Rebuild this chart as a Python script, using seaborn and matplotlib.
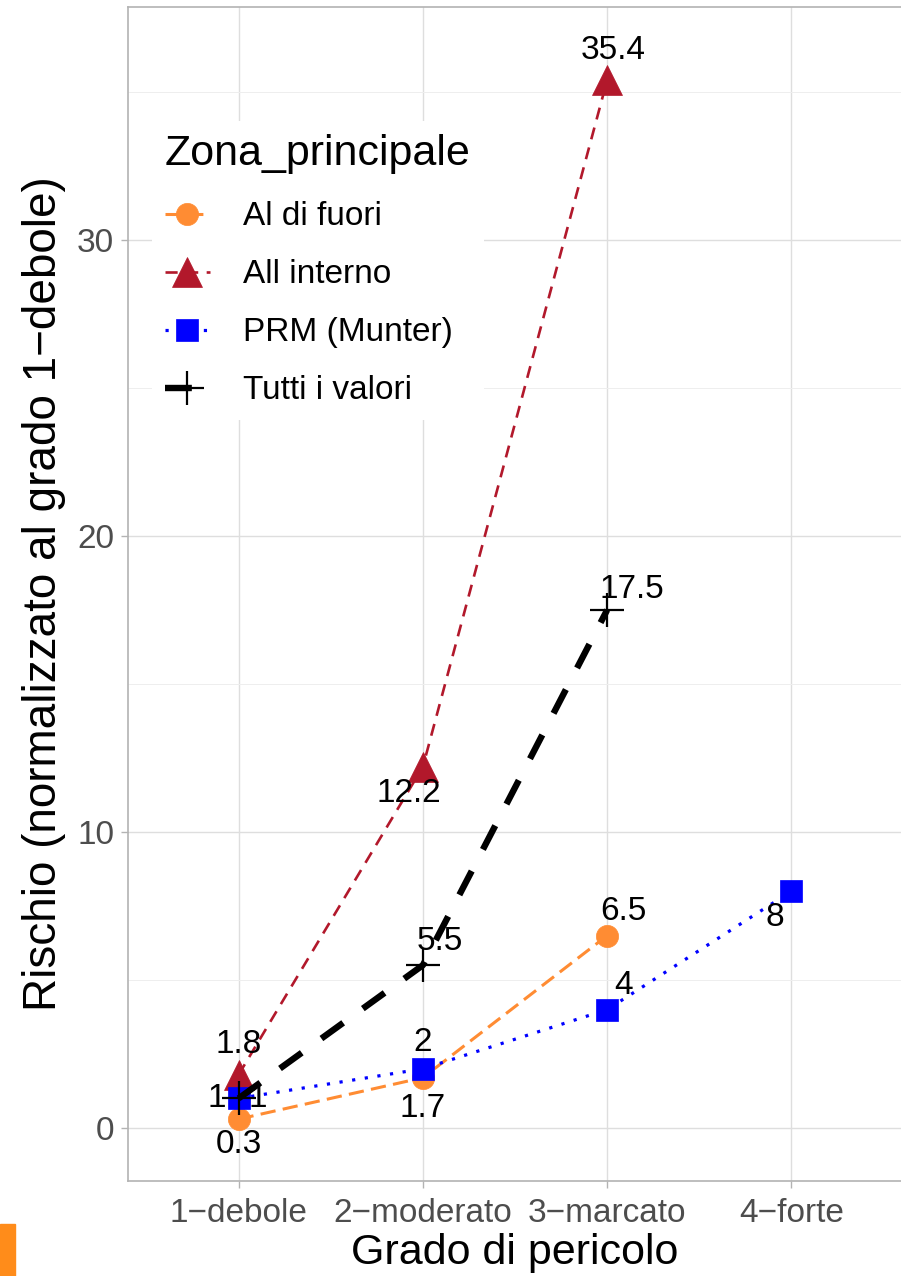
import matplotlib
matplotlib.use("Agg")
import matplotlib.pyplot as plt
from matplotlib.patches import Rectangle
from matplotlib.ticker import MultipleLocator
import pandas as pd
import seaborn as sns

# categorie sull'asse x
categories = ["1−debole", "2−moderato", "3−marcato", "4−forte"]

# valori di rischio per ogni serie (normalizzati al grado 1)
series_names = ["Al di fuori", "All interno", "PRM (Munter)", "Tutti i valori"]
al_di_fuori = [0.3, 1.7, 6.5]
all_interno = [1.8, 12.2, 35.4]
prm_munter = [1, 2, 4, 8]
tutti_valori = [1, 5.5, 17.5]

y_ticks = [0, 10, 20, 30]

rows = []
for name, vals in zip(series_names, [al_di_fuori, all_interno, prm_munter, tutti_valori]):
    for i, v in enumerate(vals):
        rows.append({"Zona_principale": name, "grado": categories[i],
                     "pos": i + 1, "rischio": v})
df = pd.DataFrame(rows)

# stile di ogni serie: colore, marker, tratteggio
STYLES = {
    "Al di fuori": dict(color="#FF8C33", marker="o", ms=16, lw=2.2,
                        ls=(0, (5, 2.4))),
    "All interno": dict(color="#B2182B", marker="^", ms=21, lw=1.9,
                        ls=(0, (4.6, 3.2))),
    "PRM (Munter)": dict(color="#0000FF", marker="s", ms=15.5, lw=2.3,
                         ls=(0, (1, 3))),
    "Tutti i valori": dict(color="#000000", marker="+", ms=24, lw=4.6,
                           ls=(0, (4.2, 3.8))),
}

# spostamento delle etichette (in punti) rispetto al punto
LABEL_OFFSETS = {
    "Al di fuori": [(0, -18), (0, -22), (12, 17)],
    "All interno": [(0, 22), (-10, -19), (4, 21)],
    "PRM (Munter)": [(-16, 0), (0, 19), (12, 17), (-12, -19)],
    "Tutti i valori": [(14, 0), (12, 17), (18, 15)],
}

sns.set_theme(style="whitegrid")
plt.rcParams["font.family"] = ["Liberation Sans", "DejaVu Sans"]
plt.rcParams["text.color"] = "black"
plt.rcParams["axes.labelcolor"] = "black"

fig = plt.figure(figsize=(9.01, 12.76), dpi=100)
ax = fig.add_axes([128 / 901, 95 / 1276, 774 / 901, 1174 / 1276])

for name in series_names:
    st = STYLES[name]
    sub = df[df["Zona_principale"] == name]
    sns.lineplot(data=sub, x="pos", y="rischio", ax=ax, color=st["color"],
                 marker=st["marker"], markersize=st["ms"],
                 markeredgecolor=st["color"],
                 markeredgewidth=1.6 if st["marker"] == "+" else 0.5,
                 linewidth=st["lw"], linestyle=st["ls"], label=name,
                 errorbar=None, legend=False)

for name in series_names:
    sub = df[df["Zona_principale"] == name]
    for (x, y), off in zip(zip(sub["pos"], sub["rischio"]), LABEL_OFFSETS[name]):
        ax.annotate(f"{y:g}", (x, y), xytext=off, textcoords="offset points",
                    ha="center", va="center", fontsize=24, color="black",
                    zorder=10)

ax.set_xlim(0.4, 4.6)
ax.set_ylim(-1.79, 37.87)
ax.set_xticks(range(1, len(categories) + 1))
ax.set_xticklabels(categories)
ax.set_yticks(y_ticks)
ax.yaxis.set_minor_locator(MultipleLocator(5))

ax.grid(True, which="major", color="#DEDEDE", linewidth=1.0)
ax.grid(True, which="minor", color="#EEEEEE", linewidth=0.7)
ax.set_axisbelow(True)
for sp in ax.spines.values():
    sp.set_color("#B3B3B3")
    sp.set_linewidth(1.2)
ax.tick_params(which="major", length=5, width=1, color="#B3B3B3",
               labelsize=24, labelcolor="#4D4D4D")
ax.tick_params(axis="x", pad=7)
ax.tick_params(axis="y", pad=5)
ax.tick_params(which="minor", length=0)
ax.tick_params(axis="x", bottom=True)
ax.tick_params(axis="y", left=True)

ax.set_xlabel("Grado di pericolo", fontsize=31, labelpad=3)
ax.set_ylabel("Rischio (normalizzato al grado 1−debole)", fontsize=33,
              labelpad=8)

leg = ax.legend(title="Zona_principale", loc="upper left",
                bbox_to_anchor=(0.009, 0.917), fontsize=24, title_fontsize=31,
                frameon=True, facecolor="white", edgecolor="none",
                framealpha=1, fancybox=False, handlelength=1.35,
                handletextpad=1.0, labelspacing=0.81, borderpad=0.4,
                alignment="left")
leg.get_title().set_color("black")
for t in leg.get_texts():
    t.set_color("black")

# piccolo rettangolo arancione in basso a sinistra
fig.add_artist(Rectangle((0, 0), 15 / 901, 52 / 1276, transform=fig.transFigure,
                         color="#FF8C1A", zorder=5))

fig.savefig("out.png", dpi=100)
